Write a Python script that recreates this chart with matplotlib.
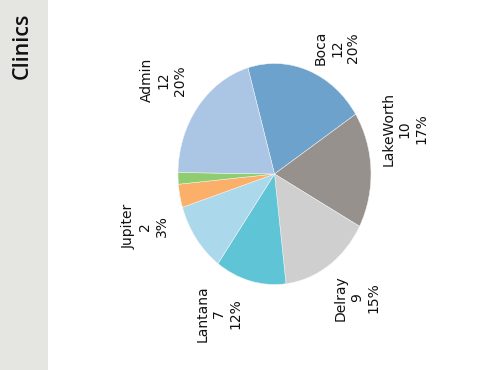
import numpy as np
import matplotlib
matplotlib.use("Agg")
import matplotlib.pyplot as plt

# Clinic headcounts
clinics = ["Boca", "LakeWorth", "Delray", "Lantana", "", "Jupiter", "", "Admin"]
counts = [12, 10, 9, 7, 6, 2, 1, 12]
colors = ["#6ca2cc", "#97918d", "#cfcfcf", "#5fc5d6",
          "#acd8ec", "#fbaf68", "#8fcd70", "#abc5e5"]

# label placement: angular nudge (deg) and radius for each wedge label
label_nudge = [-9, 14.5, 3, -10, 0, 8, 0, 1]
label_radius = [1.31, 1.41, 1.41, 1.39, 1.4, 1.42, 1.4, 1.43]

fig = plt.figure(figsize=(4.9, 3.7), dpi=100)
fig.patch.set_facecolor("white")

# facet strip on the left
strip = fig.add_axes([0, 0, 48 / 490, 1])
strip.set_facecolor("#e5e5e2")
strip.set_xticks([]); strip.set_yticks([])
for s in strip.spines.values():
    s.set_visible(False)
strip.text(0.46, 1 - 46 / 370, "Clinics", rotation=90, ha="center", va="center",
           fontsize=15.5, fontweight="semibold", family=["Open Sans", "DejaVu Sans"],
           color="#111111", transform=strip.transAxes)

# pie axes
cx, cy, rx, ry = 274.5, 174, 96.5, 110.5
ax = fig.add_axes([(cx - rx) / 490, (370 - cy - ry) / 370, 2 * rx / 490, 2 * ry / 370])
startangle = 106
wedges, _ = ax.pie(counts, colors=colors, startangle=startangle, counterclock=False,
                   radius=1, wedgeprops=dict(linewidth=0.35, edgecolor="#f4f4f4"))
ax.set_aspect("auto")
ax.set_xlim(-1, 1)
ax.set_ylim(-1, 1)
ax.axis("off")

total = sum(counts)
angle = startangle
for name, c, nudge, r in zip(clinics, counts, label_nudge, label_radius):
    span = 360 * c / total
    mid = angle - span / 2
    angle -= span
    if not name:
        continue
    a = np.deg2rad(mid + nudge)
    pct = round(100 * c / total)
    ax.text(r * np.cos(a), r * np.sin(a), f"{name}\n{c}\n{pct}%", rotation=90,
            ha="center", va="center", multialignment="center", fontsize=10,
            color="#111111", clip_on=False)

fig.savefig("out.png", dpi=100)
